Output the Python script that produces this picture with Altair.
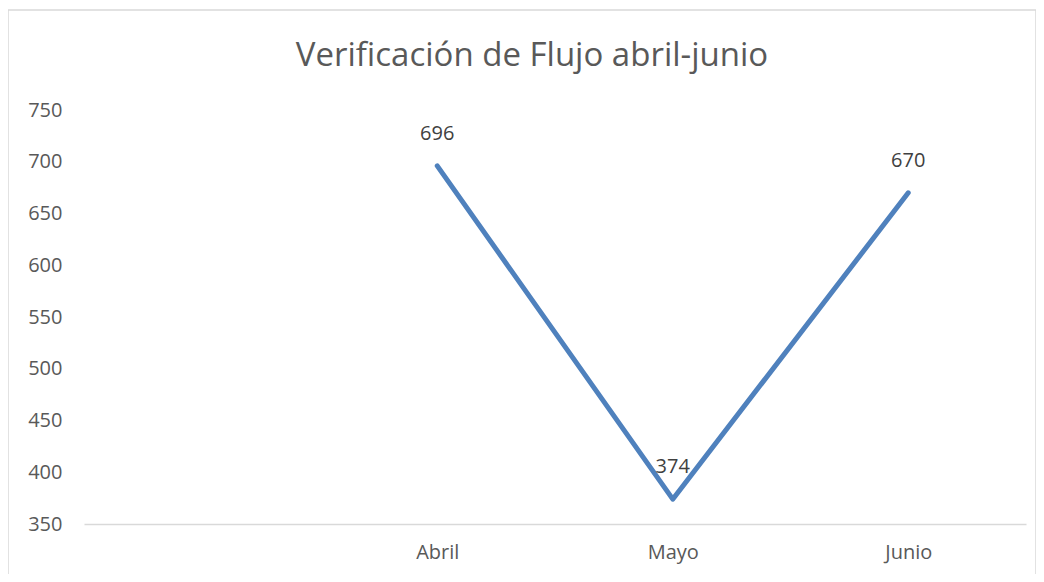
import altair as alt
import pandas as pd

title_text = "Verificación de Flujo abril-junio"
categories = ["Abril", "Mayo", "Junio"]
values = [696, 374, 670]
domain_cats = [" ", "Abril", "Mayo", "Junio"]

df = pd.DataFrame({"mes": categories, "valor": values})

FONT = "Open Sans"
xscale = alt.Scale(domain=domain_cats, type="point", padding=0.5)
x = alt.X("mes:N", scale=xscale, sort=domain_cats,
          axis=alt.Axis(title=None, labelAngle=0, ticks=False, domain=True,
                        domainColor="#d9d9d9", domainWidth=1.5, labelPadding=18,
                        labelFontSize=20, labelColor="#595959", labelFont=FONT))
y = alt.Y("valor:Q", scale=alt.Scale(domain=[350, 750], nice=False, zero=False),
          axis=alt.Axis(title=None, values=list(range(350, 751, 50)), grid=False,
                        ticks=False, domain=False, labelPadding=22,
                        labelFontSize=20, labelColor="#595959", labelFont=FONT))

one = pd.DataFrame({"t": [title_text]})
border = alt.Chart(one).mark_rect(
    fill=None, stroke="#d9d9d9", strokeWidth=1.5, clip=False
).encode(x=alt.value(-76), x2=alt.value(952), y=alt.value(-100), y2=alt.value(500))

title = alt.Chart(one).mark_text(fontSize=33, font=FONT, color="#595959", align="center",
                                 baseline="alphabetic", clip=False).encode(
    x=alt.value(448), y=alt.value(-44), text="t:N")

line = alt.Chart(df).mark_line(color="#4f81bd", strokeWidth=5, strokeCap="round",
                               strokeJoin="round").encode(x=x, y=y)
labels = alt.Chart(df).mark_text(dy=-32, fontSize=20, color="#404040", font=FONT).encode(
    x=alt.X("mes:N", scale=xscale, sort=domain_cats),
    y="valor:Q", text="valor:Q")

chart = alt.layer(border, title, line, labels).properties(
    width=942, height=414,
    autosize=alt.AutoSizeParams(type="none"),
    padding={"left": 76, "top": 102, "right": 10, "bottom": 50},
    background="white",
).configure_view(strokeWidth=0, stroke="transparent")

chart.save("out.html", embed_options={"renderer": "svg", "actions": False})
